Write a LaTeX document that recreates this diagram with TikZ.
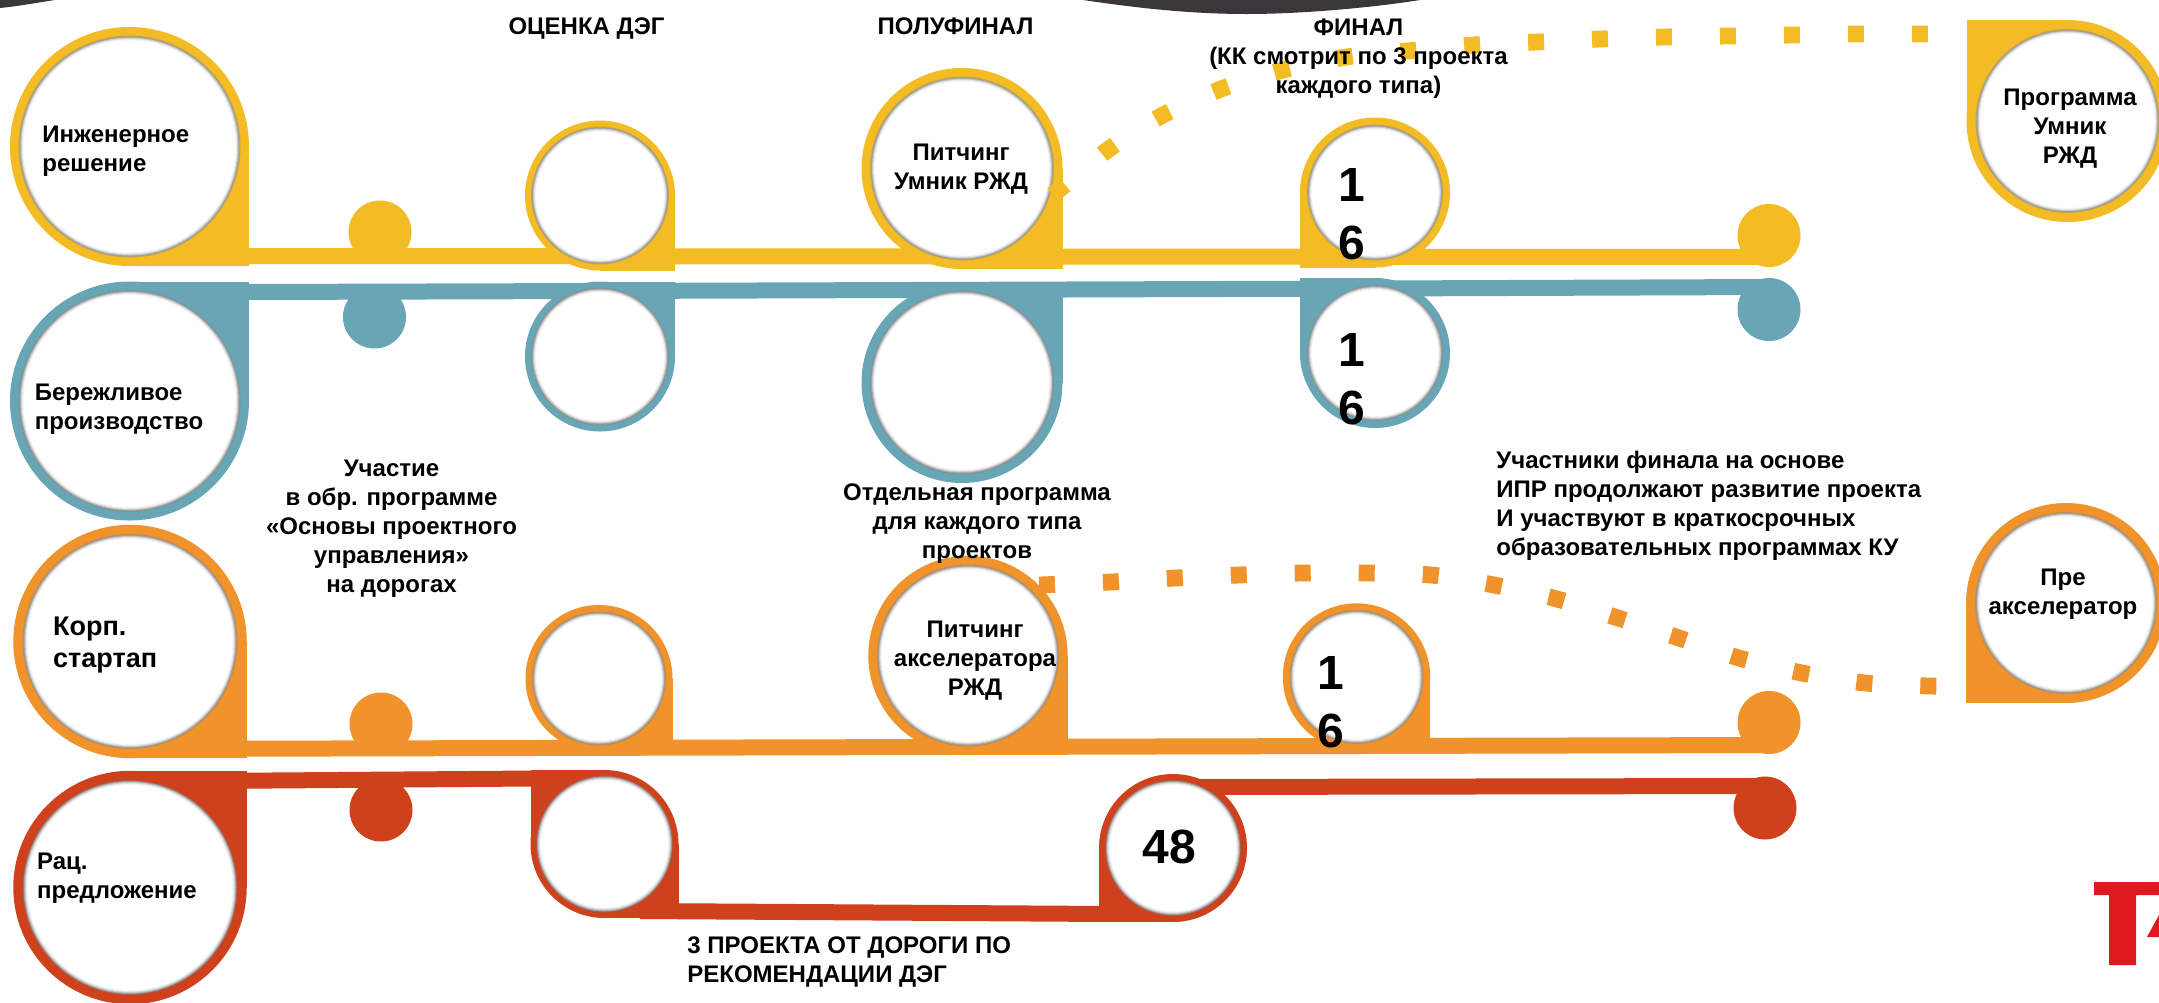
\documentclass[tikz,border=0pt]{standalone}
\usepackage{fontspec}
\setmainfont{Liberation Sans}
\usetikzlibrary{calc}
\definecolor{cY}{HTML}{F3BC24}
\definecolor{cT}{HTML}{68A6B6}
\definecolor{cO}{HTML}{F0932A}
\definecolor{cR}{HTML}{CF401C}
\definecolor{cD}{HTML}{3A363A}
\definecolor{cL}{HTML}{DD1A1E}
\tikzset{
  bar/.style={line width=8pt,line cap=butt},
  dotlink/.style={line width=8.4pt,dash pattern=on 8pt off 24pt,line cap=butt},
  lbl/.style={font=\bfseries\fontsize{12}{14.5}\selectfont,inner sep=0pt,text=black},
  lblbig/.style={font=\bfseries\fontsize{13.5}{16}\selectfont,inner sep=0pt,text=black},
  num/.style={font=\bfseries\fontsize{24}{29}\selectfont,inner sep=0pt,text=black,align=left},
  dotnode/.style={circle,inner sep=0pt,minimum size=31.5pt},
}
% \drop{name}{x}{y}{R}{r}{colour}{corner signs: list of sx/sy}
\newcommand{\drop}[7]{%
  \foreach \sx/\sy in {#7}{\fill[#6] (#2,#3) rectangle ++(\sx*#4,\sy*#4);}
  \node[circle,fill=#6,inner sep=0pt,minimum size=#4pt] (#1) at (#2,#3) {};
  \fill[#6!60!gray] (#2,#3) circle[radius=#5];
  \fill[gray!75!white] (#2,#3) circle[radius=#5-1];
  \fill[gray!45!white] (#2,#3) circle[radius=#5-2];
  \fill[gray!20!white] (#2,#3) circle[radius=#5-3];
  \fill[gray!7!white] (#2,#3) circle[radius=#5-4];
  \fill[white] (#2,#3) circle[radius=#5-5];
}
\begin{document}
\begin{tikzpicture}[x=0.5pt,y=-0.5pt]
\useasboundingbox (0,0) rectangle (2159,1002);
\fill[white] (0,0) rectangle (2159,1002);
\begin{scope}
\clip (0,0) rectangle (2159,1002);
% dark shapes at the top edge
\fill[cD] (1083,0) .. controls (1150,10) and (1200,14) .. (1247,14) .. controls (1300,14) and (1370,8) .. (1420,0) -- cycle;
\fill[cD] (0,0) -- (0,8) .. controls (20,6) and (35,3) .. (55,0) -- cycle;
% logo fragment
\fill[cL] (2094,882) -- (2159,882) -- (2159,895) -- (2136,895) -- (2136,965) -- (2109,965) -- (2109,895) -- (2094,895) -- cycle;
\fill[cL] (2147,937) -- (2159,915) -- (2159,937) -- cycle;

% end / middle dots
\node[dotnode,fill=cY] (yD) at (380,232) {};
\node[dotnode,fill=cY] (yE) at (1769,235.5) {};
\node[dotnode,fill=cT] (tD) at (374.5,317) {};
\node[dotnode,fill=cT] (tE) at (1769,309.5) {};
\node[dotnode,fill=cO] (oD) at (381,724) {};
\node[dotnode,fill=cO] (oE) at (1769,722.5) {};
\node[dotnode,fill=cR] (rD) at (381,810) {};
\node[dotnode,fill=cR] (rE) at (1765,808) {};

% bar anchors
\coordinate (yA0) at (247,256);
\coordinate (tA0) at (247,292);
\coordinate (oA0) at (244,748.7);
\coordinate (rA0) at (244,780.7);

\draw[bar,cY] (yA0) -- (yE.center |- 0,257);
\draw[bar,cT] (tA0) -- (600,291) -- (1375,288.5) -- (tE.center |- 0,287);
\draw[bar,cO] (oA0) -- (oE.center |- 0,745);
\draw[bar,cR] (rA0) -- (600,778);
\draw[bar,cR] (640,911) -- (1110,914);
\draw[bar,cR] (1173,787) -- (rE.center |- 0,786);

% teardrops
\drop{yA}{129.5}{146.5}{119.5}{111}{cY}{1/1}
\drop{tA}{129.5}{401}{119.5}{111}{cT}{1/-1}
\drop{oA}{130}{641.5}{116.7}{107.5}{cO}{1/1}
\drop{rA}{130}{887.5}{116.7}{107.5}{cR}{1/-1}
\drop{yC}{600}{195.5}{75}{69}{cY}{1/1}
\drop{tC}{600}{356.5}{75}{69}{cT}{1/-1}
\drop{oC}{599}{678.5}{73.5}{67}{cO}{1/1}
\drop{rC}{604.5}{844}{74}{68.5}{cR}{1/1,-1/-1}
\drop{yP}{962}{168.5}{100.5}{92}{cY}{1/1}
\drop{tP}{962}{382.5}{100.5}{92}{cT}{1/-1}
\drop{oP}{968}{655.5}{99.7}{91}{cO}{1/1}
\drop{yF}{1375}{192.5}{75}{68}{cY}{-1/1}
\drop{tF}{1375}{353}{75}{68}{cT}{-1/-1}
\drop{oF}{1356.5}{677}{73.7}{67}{cO}{1/1}
\drop{rF}{1173}{848}{74}{68}{cR}{-1/1}
\drop{yG}{2067.5}{121}{101}{92}{cY}{-1/-1}
\drop{oG}{2066}{603}{100}{91}{cO}{-1/1}

% dotted links
\coordinate (yL0) at (1052.8,195);
\coordinate (yL1) at (1967,34);
\draw[dotlink,cY] plot[smooth,tension=0.5] coordinates {(yL0) (1109,149) (1163,115) (1221,89) (1283,70) (1346,57) (1407,51) (1473,45) (1537,42) (1601,39) (1665,37) (1729,36) (1793,35) (1857,34) (1921,34) (yL1)};
\coordinate (oL0) at (1039,585);
\coordinate (oL1) at (1966,686);
\draw[dotlink,cO] plot[smooth,tension=0.5] coordinates {(oL0) (1111,582) (1175,578) (1239,575) (1303,573) (1366,573) (1431,575) (1494,585) (1557,599) (1618,618) (1679,638) (1739,658) (1802,673) (1865,683) (1929,686) (oL1)};

% headings and notes
\node[lbl,anchor=base] (h1) at (586.5,34) {ОЦЕНКА ДЭГ};
\node[lbl,anchor=base] (h2) at (955.5,34) {ПОЛУФИНАЛ};
\node[lbl,align=center] (h3) at (1358.5,58.5) {ФИНАЛ\\(КК смотрит по 3 проекта\\каждого типа)};
\node[lbl,align=left,anchor=west] (t1) at (42,151) {Инженерное\\решение};
\node[lbl,align=left,anchor=west] (t2) at (34.4,409) {Бережливое\\производство};
\node[lblbig,align=left,anchor=west] (t3) at (52.8,645) {Корп.\\стартап};
\node[lbl,align=left,anchor=west] (t4) at (36.7,878) {Рац.\\предложение};
\node[lbl,align=center] (n1) at (391.5,529) {Участие\\в обр. программе\\«Основы проектного\\управления»\\на дорогах};
\node[lbl,align=center] (n2) at (977,523.5) {Отдельная программа\\для каждого типа\\проектов};
\node[lbl,align=left,anchor=west] (n3) at (1496,505.5) {Участники финала на основе\\ИПР продолжают развитие проекта\\И участвуют в краткосрочных\\образовательных программах КУ};
\node[lbl,align=left,anchor=west] (n4) at (687,962) {3 ПРОЕКТА ОТ ДОРОГИ ПО\\РЕКОМЕНДАЦИИ ДЭГ};
\node[lbl,align=center] (p1) at (961,169) {Питчинг\\Умник РЖД};
\node[lbl,align=center] (p2) at (975,661) {Питчинг\\акселератора\\РЖД};
\node[lbl,align=center] (p3) at (2070,129) {Программа\\Умник\\РЖД};
\node[lbl,align=center] (p4) at (2063,594) {Пре\\акселератор};
\node[num] (d1) at (1351.5,214.5) {1\\6};
\node[num] (d2) at (1351.5,379.5) {1\\6};
\node[num] (d3) at (1330.5,702) {1\\6};
\node[num] (d4) at (1169,846.5) {48};
\end{scope}
\end{tikzpicture}
\end{document}
